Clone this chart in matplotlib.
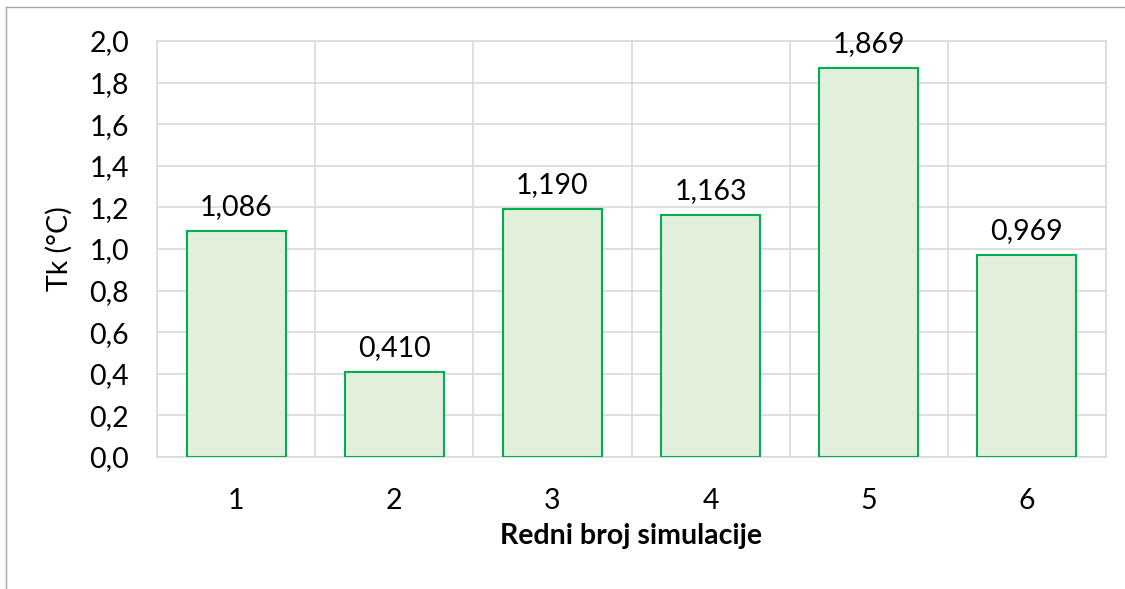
import numpy as np
import matplotlib.pyplot as plt
from matplotlib.ticker import FuncFormatter
from matplotlib.lines import Line2D

plt.rcParams['font.family'] = ['Lato', 'DejaVu Sans']

# data
categories = ['1', '2', '3', '4', '5', '6']
values = [1.086, 0.410, 1.190, 1.163, 1.869, 0.969]
yticks = [0.0, 0.2, 0.4, 0.6, 0.8, 1.0, 1.2, 1.4, 1.6, 1.8, 2.0]


def comma(v, pos=None):
    return ('%.1f' % v).replace('.', ',')


fig = plt.figure(figsize=(11.25, 5.89), dpi=100)
ax = fig.add_axes([157 / 1125, 1 - 457 / 589, (1106 - 157) / 1125, (457 - 41) / 589])

x = np.arange(len(categories))
ax.bar(x, values, width=0.626, color='#E2EFDA', edgecolor='#00B050', linewidth=1.5, zorder=3)

for xi, v in zip(x, values):
    ax.annotate(('%.3f' % v).replace('.', ','), (xi, v), xytext=(0, 8),
                textcoords='offset points', ha='center', va='bottom', fontsize=20.5)

ax.set_xlim(-0.5, len(categories) - 0.5)
ax.set_ylim(0, 2.0)
ax.set_yticks(yticks)
ax.yaxis.set_major_formatter(FuncFormatter(comma))
ax.set_xticks(x)
ax.set_xticklabels(categories)
ax.set_xticks(np.arange(len(categories) + 1) - 0.5, minor=True)

ax.grid(axis='y', which='major', color='#D9D9D9', linewidth=1.2, zorder=0)
ax.grid(axis='x', which='minor', color='#D9D9D9', linewidth=1.2, zorder=0)
ax.tick_params(which='both', length=0)
ax.tick_params(axis='y', labelsize=20.5, pad=20)
ax.tick_params(axis='x', labelsize=20.5, pad=22)
for s in ax.spines.values():
    s.set_color('#D9D9D9')
    s.set_linewidth(1.2)

ax.set_ylabel('Tk (°C)', fontsize=20.5, labelpad=12)
ax.set_xlabel('Redni broj simulacije', fontsize=20.5, fontweight='bold', labelpad=7)

# outer chart border (only top and left visible in the crop)
fig.add_artist(Line2D([6 / 1125, 6 / 1125], [0, 1 - 7 / 589], transform=fig.transFigure,
                      color='#A6A6A6', linewidth=1))
fig.add_artist(Line2D([6 / 1125, 1], [1 - 7 / 589, 1 - 7 / 589], transform=fig.transFigure,
                      color='#A6A6A6', linewidth=1))

fig.savefig('out.png', dpi=100)
